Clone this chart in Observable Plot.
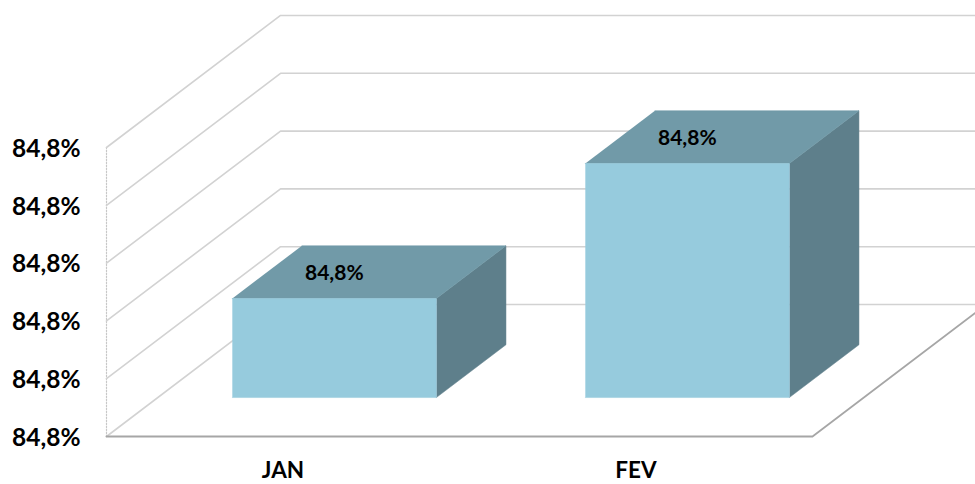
<!DOCTYPE html>
<html>
<head>
<meta charset="utf-8">
<script src="https://cdn.jsdelivr.net/npm/d3@7"></script>
<script src="https://cdn.jsdelivr.net/npm/@observablehq/plot@0.6"></script>
<style>
html,body{margin:0;padding:0;background:#fff;overflow:hidden}
svg{display:block;overflow:hidden}
</style>
</head>
<body>
<div id="chart"></div>
<script>
const categories = ["JAN", "FEV"];
const barHeights = [1.713, 4.05];
const barLabels = ["84,8%", "84,8%"];
const gridLevels = [0, 1, 2, 3, 4, 5];
const tickLabels = ["84,8%", "84,8%", "84,8%", "84,8%", "84,8%", "84,8%"];

// oblique projection: one unit of depth moves right and up, in scale units
const depthX = 0.493, depthY = 2.284;
const barWidth = 0.578, barFront = 0.295, barBack = 0.695;
const project = (x, d, v) => ({x: x + d * depthX, y: v + d * depthY});

const bars = categories.map((name, i) => ({
  name, i, v: barHeights[i], label: barLabels[i],
  x0: i + 0.5 - barWidth / 2, x1: i + 0.5 + barWidth / 2
}));

const poly = (fn) => bars.flatMap(b => fn(b).map(p => ({...p, z: b.name})));
const front = poly(b => [project(b.x0, barFront, 0), project(b.x1, barFront, 0), project(b.x1, barFront, b.v), project(b.x0, barFront, b.v)]);
const top_ = poly(b => [project(b.x0, barFront, b.v), project(b.x1, barFront, b.v), project(b.x1, barBack, b.v), project(b.x0, barBack, b.v)]);
const side = poly(b => [project(b.x1, barFront, 0), project(b.x1, barBack, 0), project(b.x1, barBack, b.v), project(b.x1, barFront, b.v)]);

const grid = gridLevels.flatMap(v => [project(0, 0, v), project(0, 1, v), project(2, 1, v)].map(p => ({...p, z: v})));
const floorEdge = [project(0, 0, 0), project(2, 0, 0), project(2, 1, 0)];
const wallEdge = [project(0, 0, 0), project(0, 0, 5)];
const labelPos = bars.map(b => ({...project(b.i + 0.5, barFront, b.v + (barFront + barBack) / 2 * depthY - barFront * depthY), label: b.label}));

const font = "Lato, Carlito, Calibri, sans-serif";
const chart = Plot.plot({
  width: 975, height: 484,
  marginLeft: 106, marginRight: 163, marginTop: 147, marginBottom: 48,
  style: {background: "#fff", fontFamily: font},
  x: {domain: [0, 2]},
  y: {domain: [0, 5]},
  marks: [
    Plot.line(wallEdge, {x: "x", y: "y", stroke: "#c8c8c8", strokeWidth: 1.2, strokeDasharray: "1.5 1.5"}),
    Plot.line(grid, {x: "x", y: "y", z: "z", stroke: "#d2d2d2", strokeWidth: 1.6}),
    Plot.line(floorEdge, {x: "x", y: "y", stroke: "#a6a6a6", strokeWidth: 1.8}),
    Plot.line(side, {x: "x", y: "y", z: "z", fill: "#5e7f8b", stroke: "#5e7f8b", strokeWidth: 0.5}),
    Plot.line(top_, {x: "x", y: "y", z: "z", fill: "#719aa8", stroke: "#719aa8", strokeWidth: 0.5}),
    Plot.line(front, {x: "x", y: "y", z: "z", fill: "#96cbdd", stroke: "#96cbdd", strokeWidth: 0.5}),
    Plot.text(labelPos, {x: "x", y: "y", text: "label", dy: 1, fontSize: 21, fontWeight: 700, fill: "#000"}),
    Plot.axisY({ticks: gridLevels, tickFormat: i => tickLabels[i], tickSize: 0, tickPadding: 26, dy: 1.5, fontSize: 24.5, fontWeight: 700, fill: "#000", label: null}),
    Plot.axisX({ticks: categories.map((c, i) => i + 0.5), tickFormat: t => categories[Math.floor(t)], tickSize: 0, tickPadding: 26, fontSize: 22.5, fontWeight: 700, fill: "#000", label: null})
  ]
});
document.getElementById("chart").append(chart);
</script>
</body>
</html>
